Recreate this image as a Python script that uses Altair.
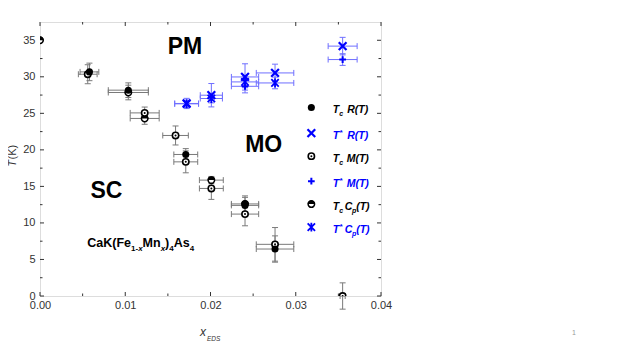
import altair as alt
import pandas as pd

FONT = "Liberation Sans"
BLACK = "#000000"
BLUE = "#0000ff"
GREY_ERR = "#7a7a7a"
BLUE_ERR = "#6f6fff"
AXIS_COL = "#333333"

# ---------------- axis ticks ----------------
x_major = [0.0, 0.01, 0.02, 0.03, 0.04]
x_minor = [0.005, 0.015, 0.025, 0.035]
y_major = [0, 5, 10, 15, 20, 25, 30, 35]
y_minor = [2.5, 7.5, 12.5, 17.5, 22.5, 27.5, 32.5]

# ---------------- data ----------------
# Tc from R(T)
R_x = [0.0058, 0.01036, 0.0171, 0.02405, 0.02757]
R_T = [30.67, 28.17, 19.37, 12.4, 6.43]
R_xerr = [0.0011, 0.00235, 0.0014, 0.0016, 0.0022]
R_Terr = [1.2, 1.0, 0.8, 1.1, 1.8]
# Tc from M(T)
M_x = [0.0056, 0.01228, 0.0159, 0.0171, 0.0201, 0.02405, 0.02757, 0.0355]
M_T = [30.35, 25.06, 21.97, 18.36, 14.72, 11.21, 7.07, 0.0]
M_xerr = [0.0011, 0.0017, 0.0015, 0.0014, 0.0014, 0.0016, 0.0022, 0.0003]
M_Terr = [1.3, 0.8, 1.3, 1.5, 1.5, 1.6, 2.3, 1.8]
# Tc from Cp(T)
Cp_x = [0.0, 0.01036, 0.01228, 0.0201, 0.02405]
Cp_T = [35.0, 27.85, 24.3, 15.86, 12.6]
Cp_xerr = [0.0, 0.00235, 0.0017, 0.0014, 0.0016]
Cp_Terr = [0.0, 1.0, 0.8, 0.5, 1.1]
# T* from R(T)
Rs_x = [0.0172, 0.0201, 0.02405, 0.02757, 0.0355]
Rs_T = [26.35, 27.48, 29.98, 30.53, 34.2]
Rs_xerr = [0.0014, 0.0013, 0.0016, 0.0022, 0.0017]
Rs_Terr = [0.7, 1.6, 1.8, 1.2, 1.2]
# T* from M(T)
Ms_x = [0.02405, 0.0355]
Ms_T = [28.7, 32.36]
Ms_xerr = [0.0016, 0.0017]
Ms_Terr = [0.9, 0.8]
# T* from Cp(T)
Cps_x = [0.0172, 0.0201, 0.02405, 0.02757]
Cps_T = [26.3, 27.03, 29.3, 29.16]
Cps_xerr = [0.0014, 0.0013, 0.0016, 0.0022]
Cps_Terr = [0.5, 0.6, 0.8, 0.8]

# legend
leg_kinds = ["R", "Rs", "M", "Ms", "Cp", "Cps"]
leg_T = [25.80, 22.29, 19.14, 15.72, 12.58, 9.43]
leg_sym_x = 0.03183
leg_txt_x = 0.03433

# region labels
ann_text = ["PM", "MO", "SC"]
ann_x = [0.0170, 0.02624, 0.0078]
ann_T = [34.05, 20.65, 14.36]

formula_x = 0.00555
formula_T = 6.66

W, H = 341, 274


def frame(xs, Ts, xe, Te, kind, grp):
    return pd.DataFrame({"x": xs, "T": Ts, "xe": xe, "Te": Te, "kind": kind, "grp": grp})


df = pd.concat([
    frame(R_x, R_T, R_xerr, R_Terr, "R", "black"),
    frame(M_x, M_T, M_xerr, M_Terr, "M", "black"),
    frame(Cp_x, Cp_T, Cp_xerr, Cp_Terr, "Cp", "black"),
    frame(Rs_x, Rs_T, Rs_xerr, Rs_Terr, "Rs", "blue"),
    frame(Ms_x, Ms_T, Ms_xerr, Ms_Terr, "Ms", "blue"),
    frame(Cps_x, Cps_T, Cps_xerr, Cps_Terr, "Cps", "blue"),
], ignore_index=True)
df["xlo"] = df["x"] - df["xe"]
df["xhi"] = df["x"] + df["xe"]
df["Tlo"] = df["T"] - df["Te"]
df["Thi"] = df["T"] + df["Te"]

XS = alt.Scale(domain=[0, 0.04], nice=False, zero=False)
YS = alt.Scale(domain=[0, 37.5], nice=False, zero=False)
xaxis = alt.Axis(values=x_major, format=".2f", ticks=False, domain=False, grid=False,
                 labelFontSize=11, labelColor=AXIS_COL, labelPadding=3, title=None,
                 labelFont=FONT, labelFlush=False, labelOverlap=False)
yaxis = alt.Axis(values=y_major, ticks=False, domain=False, grid=False,
                 labelFontSize=11, labelColor=AXIS_COL, labelPadding=5, title=None,
                 labelFont=FONT, labelFlush=False, labelOverlap=False)


def X(f):
    return alt.X(f, type="quantitative", scale=XS, axis=xaxis)


def Y(f):
    return alt.Y(f, type="quantitative", scale=YS, axis=yaxis)


layers = []

# ---- inward frame ticks ----
xt = pd.DataFrame({"v": x_major})
xm = pd.DataFrame({"v": x_minor})
yt = pd.DataFrame({"v": y_major})
ym = pd.DataFrame({"v": y_minor})
for d, L in [(xt, 4), (xm, 2.5)]:
    layers.append(alt.Chart(d).mark_rule(color=AXIS_COL, strokeWidth=1).encode(
        x=X("v"), y=alt.value(H), y2=alt.value(H - L)))
    layers.append(alt.Chart(d).mark_rule(color=AXIS_COL, strokeWidth=1).encode(
        x=X("v"), y=alt.value(0), y2=alt.value(L)))
for d, L in [(yt, 4), (ym, 2.5)]:
    layers.append(alt.Chart(d).mark_rule(color=AXIS_COL, strokeWidth=1).encode(
        y=Y("v"), x=alt.value(0), x2=alt.value(L)))
    layers.append(alt.Chart(d).mark_rule(color=AXIS_COL, strokeWidth=1).encode(
        y=Y("v"), x=alt.value(W), x2=alt.value(W - L)))

# ---- error bars ----
VCAP = "M0,-1L0,1"
HCAP = "M-1,0L1,0"
for grp, col in [("black", GREY_ERR), ("blue", BLUE_ERR)]:
    d = df[df["grp"] == grp]
    dx = d[d["xe"] > 0]
    dT = d[d["Te"] > 0]
    layers.append(alt.Chart(dx).mark_rule(color=col, strokeWidth=1).encode(
        x=X("xlo"), x2="xhi", y=Y("T")))
    for f in ["xlo", "xhi"]:
        layers.append(alt.Chart(dx).mark_point(shape=VCAP, filled=False, stroke=col,
                                               strokeWidth=1, size=36, opacity=1).encode(
            x=X(f), y=Y("T")))
    layers.append(alt.Chart(dT).mark_rule(color=col, strokeWidth=1).encode(
        x=X("x"), y=Y("Tlo"), y2="Thi"))
    for f in ["Tlo", "Thi"]:
        layers.append(alt.Chart(dT).mark_point(shape=HCAP, filled=False, stroke=col,
                                               strokeWidth=1, size=36, opacity=1).encode(
            x=X("x"), y=Y(f)))

# ---- markers ----
XPATH = "M-1,-1L1,1M-1,1L1,-1"
PLUS = "M-1,0L1,0M0,-1L0,1"
STAR = "M-1,-1L1,1M-1,1L1,-1M0,-1.2L0,1.2"
HALF = "M-1,0A1,1,0,0,1,1,0Z"


def markers(d, kind):
    enc = dict(x=X("x"), y=Y("T"))
    c = alt.Chart(d)
    if kind == "R":
        return [c.mark_point(shape="circle", filled=True, size=50, color=BLACK,
                             opacity=1, clip=True).encode(**enc)]
    if kind == "M":
        return [c.mark_point(shape="circle", filled=True, fill="white", stroke=BLACK,
                             strokeWidth=1.6, size=40, opacity=1, clip=True).encode(**enc),
                c.mark_point(shape="circle", filled=True, size=4, color=BLACK,
                             opacity=1, clip=True).encode(**enc)]
    if kind == "Cp":
        return [c.mark_point(shape="circle", filled=True, fill="white", stroke=BLACK,
                             strokeWidth=1.5, size=42, opacity=1, clip=True).encode(**enc),
                c.mark_point(shape=HALF, filled=True, fill=BLACK, strokeWidth=0,
                             size=54, opacity=1, clip=True).encode(**enc)]
    if kind == "Rs":
        return [c.mark_point(shape=XPATH, filled=False, stroke=BLUE, strokeWidth=2.2,
                             size=60, opacity=1, clip=True).encode(**enc)]
    if kind == "Ms":
        return [c.mark_point(shape=PLUS, filled=False, stroke=BLUE, strokeWidth=2,
                             size=45, opacity=1, clip=True).encode(**enc)]
    if kind == "Cps":
        return [c.mark_point(shape=STAR, filled=False, stroke=BLUE, strokeWidth=1.8,
                             size=55, opacity=1, clip=True).encode(**enc)]
    return []


for k in ["Cp", "M", "R", "Cps", "Ms", "Rs"]:
    layers += markers(df[df["kind"] == k], k)

# ---- in-plot legend ----
leg = pd.DataFrame({"kind": leg_kinds, "T": leg_T, "x": leg_sym_x, "tx": leg_txt_x})
for k in leg_kinds:
    layers += markers(leg[leg["kind"] == k], k)

leg["col"] = [BLACK if k in ("R", "M", "Cp") else BLUE for k in leg_kinds]
LF = 10.5


def ltext(d, text, dx, dy, size):
    return alt.Chart(d).mark_text(align="left", baseline="alphabetic", dx=dx, dy=dy,
                                  font=FONT, fontSize=size, fontStyle="italic",
                                  fontWeight="bold", text=text).encode(
        x=X("tx"), y=Y("T"), color=alt.Color("col:N", scale=None))


layers.append(ltext(leg, "T", 0, 6, LF))
layers.append(ltext(leg[leg["col"] == BLACK], "c", 6.5, 9, 7))
layers.append(ltext(leg[leg["col"] == BLUE], "*", 6.5, 2, 8))
layers.append(ltext(leg[leg["kind"].isin(["R", "Rs"])], "R(T)", 14.6, 6, LF))
layers.append(ltext(leg[leg["kind"].isin(["M", "Ms"])], "M(T)", 14, 6, LF))
cpd = leg[leg["kind"].isin(["Cp", "Cps"])]
layers.append(ltext(cpd, "C", 12, 6, LF))
layers.append(ltext(cpd, "p", 19.4, 9, 7))
layers.append(ltext(cpd, "(T)", 23.5, 6, LF))

# ---- region labels ----
ann = pd.DataFrame({"x": ann_x, "T": ann_T, "t": ann_text})
layers.append(alt.Chart(ann).mark_text(font=FONT, fontSize=23, fontWeight="bold",
                                       align="center", baseline="middle", color=BLACK).encode(
    x=X("x"), y=Y("T"), text="t:N"))

# ---- compound formula with subscripts ----
WID = {"C": 722, "a": 556, "K": 722, "(": 333, "F": 611, "e": 556, "1": 556, "-": 333,
       "x": 556, "M": 833, "n": 611, ")": 333, "4": 556, "A": 722, "s": 556}
FF, FS = 12.5, 8
pieces = [("CaK(Fe", False, "normal"), ("1-", True, "normal"), ("x", True, "italic"),
          ("Mn", False, "normal"), ("x", True, "italic"), (")", False, "normal"),
          ("4", True, "normal"), ("As", False, "normal"), ("4", True, "normal")]
fd = pd.DataFrame({"x": [formula_x], "T": [formula_T]})
off = 0.0
for txt, sub, style in pieces:
    size = FS if sub else FF
    layers.append(alt.Chart(fd).mark_text(align="left", baseline="alphabetic", dx=off,
                                          dy=3.5 if sub else 0, font=FONT, fontSize=size,
                                          fontWeight="bold", fontStyle=style, text=txt,
                                          color=BLACK).encode(x=X("x"), y=Y("T")))
    off += sum(WID[ch] for ch in txt) * size / 1000.0

# ---- axis titles (mixed styles) ----
layers.append(alt.Chart(fd).mark_text(align="left", baseline="alphabetic", angle=270,
                                      font=FONT, fontSize=11, fontStyle="italic",
                                      text="T", color=AXIS_COL).encode(
    x=alt.value(-24), y=alt.value(144.7)))
layers.append(alt.Chart(fd).mark_text(align="left", baseline="alphabetic", angle=270,
                                      font=FONT, fontSize=11, text="(K)",
                                      color=AXIS_COL).encode(
    x=alt.value(-24), y=alt.value(137.5)))
layers.append(alt.Chart(fd).mark_text(align="left", baseline="alphabetic", font=FONT,
                                      fontSize=12, fontStyle="italic", text="x",
                                      color=AXIS_COL).encode(
    x=alt.value(160), y=alt.value(314)))
layers.append(alt.Chart(fd).mark_text(align="left", baseline="alphabetic", font=FONT,
                                      fontSize=6.5, fontStyle="italic", text="EDS",
                                      color=AXIS_COL).encode(
    x=alt.value(167), y=alt.value(318.5)))
# page number
layers.append(alt.Chart(fd).mark_text(align="center", baseline="middle", font=FONT,
                                      fontSize=7, text="1", color="#999999").encode(
    x=alt.value(534), y=alt.value(311)))

chart = alt.layer(*layers).properties(
    width=W, height=H,
    autosize=alt.AutoSizeParams(type="none"),
    padding={"left": 32, "top": 14, "right": 234, "bottom": 47},
).configure_view(stroke=AXIS_COL, strokeWidth=1.5).configure(background="white")

chart.save("out.html", embed_options={"renderer": "svg", "actions": False})
